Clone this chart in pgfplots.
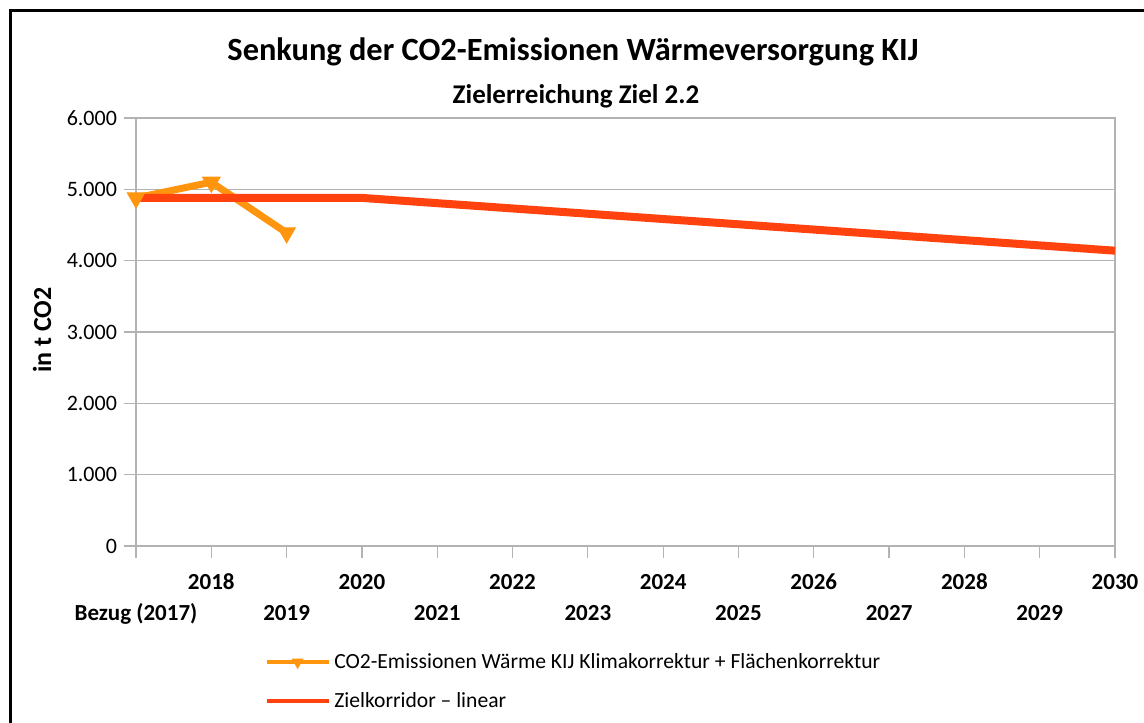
\documentclass[border=0pt]{standalone}
\usepackage{fontspec}
\setmainfont{Carlito}
\usepackage{pgfplots}
\pgfplotsset{compat=1.18}
\definecolor{cOrange}{HTML}{FF950E}
\definecolor{cRed}{HTML}{FF420E}
\definecolor{cGrid}{HTML}{B3B3B3}
\begin{document}
\begin{tikzpicture}
\path[use as bounding box] (0,0) rectangle (572pt,361pt);
\draw[line width=1.5pt] (5pt,-5pt) -- (5pt,355.5pt) -- (580pt,355.5pt);
\node[font=\fontsize{16.2}{18}\selectfont\bfseries] at (286.5pt,335pt) {Senkung der CO2-Emissionen Wärmeversorgung KIJ};
\node[font=\fontsize{13.5}{15}\selectfont\bfseries] at (288pt,313pt) {Zielerreichung Ziel 2.2};
\node[rotate=90,font=\fontsize{13}{15}\selectfont\bfseries] at (21pt,196pt) {in t CO2};
\begin{axis}[
  at={(68pt,88pt)}, anchor=south west,
  scale only axis, width=489.5pt, height=214pt,
  xmin=0, xmax=13, ymin=0, ymax=6000,
  xtick={0,...,13},
  xticklabels={{\strut\\\strut Bezug (2017)},{\strut 2018\\\strut},{\strut\\\strut 2019},{\strut 2020\\\strut},{\strut\\\strut 2021},{\strut 2022\\\strut},{\strut\\\strut 2023},{\strut 2024\\\strut},{\strut\\\strut 2025},{\strut 2026\\\strut},{\strut\\\strut 2027},{\strut 2028\\\strut},{\strut\\\strut 2029},{\strut 2030\\\strut}},
  xticklabel style={align=center, font=\fontsize{11.5}{15.5}\selectfont\bfseries, inner sep=0pt, yshift=-4.5pt},
  ytick={0,1000,...,6000},
  yticklabel style={font=\fontsize{11}{12}\selectfont},
  /pgf/number format/1000 sep={.},
  /pgf/number format/assume math mode=true,
  xtick pos=bottom, ytick pos=left,
  tick align=outside, major tick length=6pt,
  axis line style={draw=cGrid, line width=0.6pt},
  tick style={draw=cGrid, line width=0.6pt},
  ymajorgrids, grid style={draw=cGrid, line width=0.6pt},
  legend style={at={(0.131,-0.24)}, anchor=north west, draw=none, font=\fontsize{10.8}{12}\selectfont, row sep=6.5pt, inner sep=0pt, nodes={inner xsep=1.8pt}, cells={anchor=west}},
  legend image code/.code={\draw[#1, line width=2pt, mark size=3pt, mark repeat=2, mark phase=2] plot coordinates {(0pt,0pt) (15.5pt,0pt) (31pt,0pt)};},
]
\addplot[color=cOrange, line width=3.5pt, mark=triangle*, mark size=5pt, mark options={rotate=180, solid, fill=cOrange, line width=0.5pt}]
  coordinates {(0,4880) (1,5100) (2,4390)};
\addlegendentry{CO2-Emissionen Wärme KIJ Klimakorrektur + Flächenkorrektur}
\addplot[color=cRed, line width=4pt]
  coordinates {(0,4880) (1,4880) (2,4880) (3,4880) (4,4806) (5,4732) (6,4658) (7,4584) (8,4510) (9,4436) (10,4362) (11,4288) (12,4214) (13,4140)};
\addlegendentry{Zielkorridor – linear}
\end{axis}
\end{tikzpicture}
\end{document}
